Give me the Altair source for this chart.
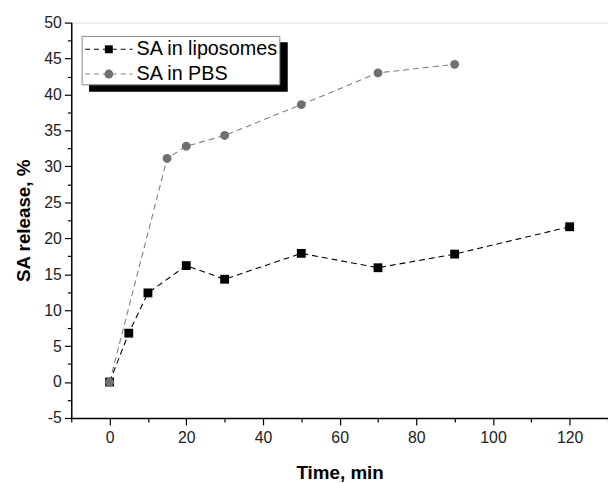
import altair as alt
import pandas as pd

lipo_t = [0, 5, 10, 20, 30, 50, 70, 90, 120]
lipo_v = [0, 6.8, 12.4, 16.2, 14.3, 17.9, 15.9, 17.8, 21.6]
pbs_t = [0, 15, 20, 30, 50, 70, 90]
pbs_v = [0, 31.1, 32.8, 34.3, 38.6, 43.0, 44.2]
series = ["SA in liposomes", "SA in PBS"]
colors = ["#000000", "#707070"]
line_colors = ["#000000", "#808080"]
shapes = ["square", "circle"]

df = pd.DataFrame(
    {"t": lipo_t + pbs_t,
     "v": lipo_v + pbs_v,
     "s": [series[0]] * len(lipo_t) + [series[1]] * len(pbs_t),
     "o": [0] * len(lipo_t) + [1] * len(pbs_t)}
)

x_ticks = [i for i in range(-10, 131, 10)]
y_ticks = [i * 2.5 for i in range(-2, 21)]

FONT = "Liberation Sans"

xs = alt.Scale(domain=[-10, 130], nice=False, zero=False)
ys = alt.Scale(domain=[-5, 50], nice=False, zero=False)

common = dict(labelOverlap=False, grid=False, domainColor="black", tickColor="black",
              domainWidth=1.5, tickWidth=1.2, labelFontSize=16, labelColor="#222",
              labelFont=FONT, titleFont=FONT, titleFontSize=19, titleFontWeight="bold",
              titleColor="black")

x_enc = alt.X("t:Q", scale=xs, title="Time, min", axis=alt.Axis(
    values=x_ticks, labelExpr="datum.value % 20 === 0 ? '' + datum.value : ''",
    tickSize={"condition": {"test": "datum.value % 20 === 0", "value": 7}, "value": 4},
    labelPadding=5, titlePadding=18, **common))
y_enc = alt.Y("v:Q", scale=ys, title="SA release, %", axis=alt.Axis(
    values=y_ticks, labelExpr="datum.value % 5 === 0 ? '' + datum.value : ''",
    tickSize={"condition": {"test": "datum.value % 5 === 0", "value": 7}, "value": 4},
    labelPadding=3, titlePadding=10, **common))

shape = alt.Shape("s:N", scale=alt.Scale(domain=series, range=shapes), legend=None)

base = alt.Chart(df)
lines = base.mark_line(strokeDash=[6, 4], strokeWidth=1.1).encode(
    x=x_enc, y=y_enc, stroke=alt.Stroke("s:N", scale=alt.Scale(domain=series, range=line_colors), legend=None),
    detail="s:N")
points = base.mark_point(filled=True, size=80, opacity=1).encode(
    x=x_enc, y=y_enc, fill=alt.Fill("s:N", scale=alt.Scale(domain=series, range=colors), legend=None),
    shape=shape, order="o:Q")

one = pd.DataFrame({"a": [1]})
legend_shadow = alt.Chart(one).mark_rect(color="black").encode(
    x=alt.value(18), x2=alt.value(219), y=alt.value(20), y2=alt.value(70))
legend_box = alt.Chart(one).mark_rect(
    fill="white", stroke="#888", strokeWidth=1).encode(
    x=alt.value(11), x2=alt.value(211), y=alt.value(14), y2=alt.value(63))
leg_line1 = alt.Chart(one).mark_rule(
    strokeDash=[5, 4], strokeWidth=1.1, color=line_colors[0]).encode(
    x=alt.value(14), x2=alt.value(62), y=alt.value(27))
leg_line2 = alt.Chart(one).mark_rule(
    strokeDash=[5, 4], strokeWidth=1.1, color=line_colors[1]).encode(
    x=alt.value(14), x2=alt.value(62), y=alt.value(52))
leg_sym1 = alt.Chart(one).mark_point(
    filled=True, shape="square", size=64, fill=colors[0], opacity=1).encode(
    x=alt.value(38), y=alt.value(27))
leg_sym2 = alt.Chart(one).mark_point(
    filled=True, shape="circle", size=80, fill=colors[1], opacity=1).encode(
    x=alt.value(38), y=alt.value(52))
leg_txt1 = alt.Chart(one).mark_text(
    text=series[0], align="left", baseline="middle", fontSize=20, font=FONT, color="black").encode(
    x=alt.value(66), y=alt.value(27))
leg_txt2 = alt.Chart(one).mark_text(
    text=series[1], align="left", baseline="middle", fontSize=20, font=FONT, color="black").encode(
    x=alt.value(66), y=alt.value(52))

chart = alt.layer(
    lines, points, legend_shadow, legend_box, leg_line1, leg_line2,
    leg_sym1, leg_sym2, leg_txt1, leg_txt2
).properties(
    width=543, height=400,
    autosize=alt.AutoSizeParams(type="none"),
    padding={"left": 64, "top": 12, "right": 0, "bottom": 63},
).configure_view(stroke="black", strokeWidth=1.5).configure(background="white")

chart.save("out.html", embed_options={"renderer": "svg", "actions": False})
